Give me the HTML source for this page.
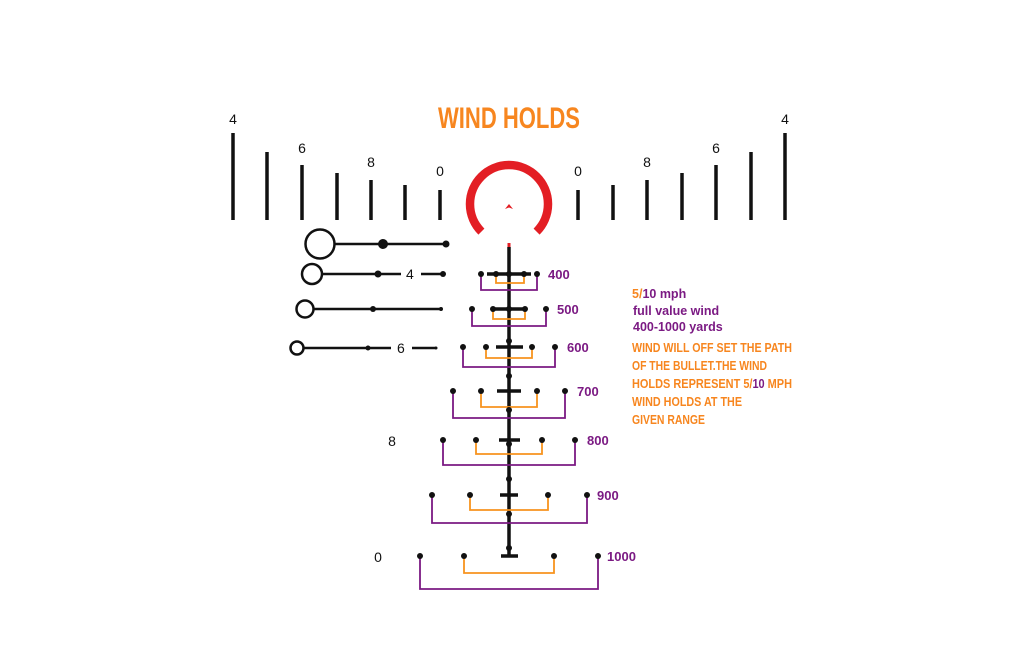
<!DOCTYPE html>
<html><head><meta charset="utf-8"><style>
html,body{margin:0;padding:0;background:#fff;}
svg{display:block;}
.n{font-family:"Liberation Sans",sans-serif;font-size:14px;fill:#111;}
.c{font-family:"Liberation Sans Narrow","Liberation Sans",sans-serif;font-weight:bold;}
</style></head><body>
<svg width="1024" height="662" viewBox="0 0 1024 662" xmlns="http://www.w3.org/2000/svg">
<rect width="1024" height="662" fill="#fff"/>
<text x="438" y="128" class="c" font-size="30" fill="#f7861f" textLength="142" lengthAdjust="spacingAndGlyphs">WIND HOLDS</text>
<g stroke="#111" stroke-width="3.5">
<line x1="233" y1="133" x2="233" y2="220"/><line x1="267" y1="152" x2="267" y2="220"/>
<line x1="302" y1="165" x2="302" y2="220"/><line x1="337" y1="173" x2="337" y2="220"/>
<line x1="371" y1="180" x2="371" y2="220"/><line x1="405" y1="185" x2="405" y2="220"/>
<line x1="440" y1="190" x2="440" y2="220"/>
<line x1="578" y1="190" x2="578" y2="220"/><line x1="613" y1="185" x2="613" y2="220"/>
<line x1="647" y1="180" x2="647" y2="220"/><line x1="682" y1="173" x2="682" y2="220"/>
<line x1="716" y1="165" x2="716" y2="220"/><line x1="751" y1="152" x2="751" y2="220"/>
<line x1="785" y1="133" x2="785" y2="220"/>
</g>
<g class="n" text-anchor="middle">
<text x="233" y="124">4</text><text x="302" y="153">6</text><text x="371" y="167">8</text><text x="440" y="176">0</text>
<text x="578" y="176">0</text><text x="647" y="167">8</text><text x="716" y="153">6</text><text x="785" y="124">4</text>
<text x="392" y="446">8</text><text x="378" y="562">0</text>
</g>
<path d="M481.4 231.6 A39 39 0 1 1 536.6 231.6" fill="none" stroke="#e31e24" stroke-width="8.5"/>
<path d="M505 209 L509 204 L513 209 L509 207.5 Z" fill="#e31e24"/>
<line x1="509" y1="243" x2="509" y2="247" stroke="#e31e24" stroke-width="3"/>
<line x1="509" y1="247" x2="509" y2="556" stroke="#111" stroke-width="3.5"/>
<!-- left lines -->
<g stroke="#111" stroke-width="2.5" fill="none">
<circle cx="320" cy="244" r="14.5"/><line x1="334" y1="244" x2="446" y2="244"/>
<circle cx="312" cy="274" r="10"/><line x1="322" y1="274" x2="401" y2="274"/><line x1="421" y1="274" x2="443" y2="274"/>
<circle cx="305" cy="309" r="8.5"/><line x1="313" y1="309" x2="441" y2="309"/>
<circle cx="297" cy="348" r="6.5"/><line x1="303" y1="348" x2="391" y2="348"/><line x1="412" y1="348" x2="436" y2="348"/>
</g>
<g fill="#111">
<circle cx="383" cy="244" r="5"/><circle cx="446" cy="244" r="3.5"/>
<circle cx="378" cy="274" r="3.5"/><circle cx="443" cy="274" r="3"/>
<circle cx="373" cy="309" r="3"/><circle cx="441" cy="309" r="2"/>
<circle cx="368" cy="348" r="2.5"/><circle cx="436" cy="348" r="1.5"/>
</g>
<g class="n"><text x="406" y="279">4</text><text x="397" y="353">6</text></g>
<!-- rows -->
<g fill="none" stroke-width="1.8">
<path d="M496 274V283H524V274" stroke="#f7931e"/><path d="M481 274V290H537V274" stroke="#7b1a83"/>
<path d="M493 309V319H525V309" stroke="#f7931e"/><path d="M472 309V326H546V309" stroke="#7b1a83"/>
<path d="M486 347V358H532V347" stroke="#f7931e"/><path d="M463 347V367H555V347" stroke="#7b1a83"/>
<path d="M481 391V407H537V391" stroke="#f7931e"/><path d="M453 391V418H565V391" stroke="#7b1a83"/>
<path d="M476 440V454H542V440" stroke="#f7931e"/><path d="M443 440V465H575V440" stroke="#7b1a83"/>
<path d="M470 495V510H548V495" stroke="#f7931e"/><path d="M432 495V523H587V495" stroke="#7b1a83"/>
<path d="M464 556V573H554V556" stroke="#f7931e"/><path d="M420 556V589H598V556" stroke="#7b1a83"/>
</g>
<g stroke="#111" stroke-width="3.5">
<line x1="487" y1="274" x2="531" y2="274"/><line x1="492" y1="309" x2="525" y2="309"/>
<line x1="496" y1="347" x2="523" y2="347"/><line x1="497" y1="391" x2="521" y2="391"/>
<line x1="499" y1="440" x2="520" y2="440"/><line x1="500" y1="495" x2="518" y2="495"/>
<line x1="501" y1="556" x2="518" y2="556"/>
</g>
<g fill="#111">
<circle cx="481" cy="274" r="3"/><circle cx="496" cy="274" r="3"/><circle cx="509" cy="274" r="3"/><circle cx="524" cy="274" r="3"/><circle cx="537" cy="274" r="3"/>
<circle cx="472" cy="309" r="3"/><circle cx="493" cy="309" r="3"/><circle cx="509" cy="309" r="3"/><circle cx="525" cy="309" r="3"/><circle cx="546" cy="309" r="3"/>
<circle cx="463" cy="347" r="3"/><circle cx="486" cy="347" r="3"/><circle cx="532" cy="347" r="3"/><circle cx="555" cy="347" r="3"/><circle cx="509" cy="341" r="3"/>
<circle cx="453" cy="391" r="3"/><circle cx="481" cy="391" r="3"/><circle cx="537" cy="391" r="3"/><circle cx="565" cy="391" r="3"/><circle cx="509" cy="376" r="3"/><circle cx="509" cy="410" r="3"/>
<circle cx="443" cy="440" r="3"/><circle cx="476" cy="440" r="3"/><circle cx="542" cy="440" r="3"/><circle cx="575" cy="440" r="3"/><circle cx="509" cy="444" r="3"/><circle cx="509" cy="479" r="3"/>
<circle cx="432" cy="495" r="3"/><circle cx="470" cy="495" r="3"/><circle cx="548" cy="495" r="3"/><circle cx="587" cy="495" r="3"/><circle cx="509" cy="514" r="3"/>
<circle cx="420" cy="556" r="3"/><circle cx="464" cy="556" r="3"/><circle cx="554" cy="556" r="3"/><circle cx="598" cy="556" r="3"/><circle cx="509" cy="548" r="3"/>
</g>
<g class="c" font-size="13" fill="#7b1a83">
<text x="548" y="279">400</text><text x="557" y="314">500</text><text x="567" y="352">600</text>
<text x="577" y="396">700</text><text x="587" y="445">800</text><text x="597" y="500">900</text><text x="607" y="561">1000</text>
</g>
<g class="c" font-size="12.5">
<text x="632" y="298" fill="#7b1a83"><tspan fill="#f7861f">5/</tspan>10 mph</text>
<text x="633" y="315" fill="#7b1a83">full value wind</text>
<text x="633" y="331" fill="#7b1a83">400-1000 yards</text>
<g fill="#f7861f">
<text x="632" y="352" textLength="160" lengthAdjust="spacingAndGlyphs">WIND WILL OFF SET THE PATH</text>
<text x="632" y="370" textLength="135" lengthAdjust="spacingAndGlyphs">OF THE BULLET.THE WIND</text>
<text x="632" y="388" textLength="160" lengthAdjust="spacingAndGlyphs">HOLDS REPRESENT 5/<tspan fill="#7b1a83">10</tspan> MPH</text>
<text x="632" y="406" textLength="110" lengthAdjust="spacingAndGlyphs">WIND HOLDS AT THE</text>
<text x="632" y="424" textLength="73" lengthAdjust="spacingAndGlyphs">GIVEN RANGE</text>
</g>
</g>
</svg>
</body></html>
